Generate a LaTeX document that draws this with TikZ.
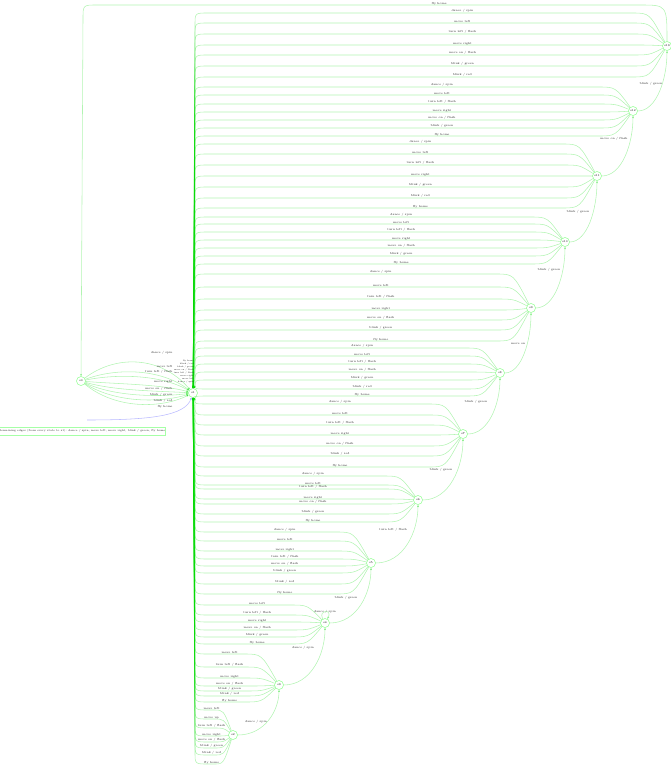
\documentclass[tikz,border=0pt]{standalone}
\usetikzlibrary{arrows.meta,calc}
\begin{document}
\begin{tikzpicture}[x=1pt,y=-1pt,
 st/.style={circle,draw=green!45,line width=0.5pt,inner sep=0pt,minimum size=9pt,font=\fontsize{2.8}{3}\selectfont},
 hedge/.style={draw=green!85!black,draw opacity=0.3,line width=0.55pt,-{Stealth[length=2.4pt,width=1.8pt]}},
 blueedge/.style={draw=blue!60,draw opacity=0.45,line width=0.55pt,-{Stealth[length=2.4pt,width=1.8pt]}},
 lbl/.style={font=\fontsize{2.9}{3.1}\selectfont,text=black!85,inner sep=0.3pt},
 tinylbl/.style={font=\fontsize{2.1}{2.3}\selectfont,text=black!85,inner sep=0.1pt},
 notebox/.style={draw=green!35,line width=0.5pt,minimum width=161pt,minimum height=8pt,inner sep=0pt,font=\fontsize{2.7}{3}\selectfont,text=black!85}]
\useasboundingbox (0,0) rectangle (671,768);

% states
\node[st] (L) at (81,381) {s0};
\node[st] (hub) at (193,393) {s1};
\node[st] (R1) at (233,735) {s2};
\node[st] (R2) at (279,685) {s3};
\node[st] (R3) at (325,623) {s4};
\node[st] (R4) at (371,563) {s5};
\node[st] (R5) at (418,500) {s6};
\node[st] (R6) at (463,434) {s7};
\node[st] (R7) at (500,373) {s8};
\node[st] (R8) at (531,308) {s9};
\node[st] (R9) at (565,242) {s10};
\node[st] (R10) at (597,176) {s11};
\node[st] (R11) at (633,111) {s12};
\node[st] (R12) at (667,46) {s13};

% note
\node[notebox] (note) at (82,431) {Remaining edges (from every state to s1): dance / spin, move left, move right, blink / green, fly home};
\coordinate (nstart) at (87,420);
\draw[blueedge] (nstart) .. controls (150,420) and (185,416) .. (hub);

% edges from a right-hand state back to s1
\newcommand\hedge[4]{%
 \pgfmathsetmacro\xa{max(#2-35,214)}%
 \pgfmathsetmacro\xm{(#2+\xa)/2}%
 \pgfmathsetmacro\ym{ifthenelse(#3<393, min(#3+12,386), max(#3-12,400))}%
 \draw[hedge] (#1) .. controls (\xm,#3) .. (\xa,#3) -- node[lbl,pos=0.4,above=-0.2pt]{#4} (208,#3) .. controls (195,#3) .. (195,\ym) -- (hub);}

\foreach \y/\t in {13/{dance / spin},23/{move left},34/{turn left / flash},45/{move right},55/{move on / flash},66/{blink / green},77/{blink / red}}{\hedge{R12}{667}{\y}{\t}}
\foreach \y/\t in {87/{dance / spin},95/{move left},104/{turn left / flash},112/{move right},120/{move on / flash},128/{blink / green},136/{fly home}}{\hedge{R11}{633}{\y}{\t}}
\foreach \y/\t in {144/{dance / spin},154/{move left},165/{turn left / flash},176/{move right},187/{blink / green},198/{blink / red},208/{fly home}}{\hedge{R10}{597}{\y}{\t}}
\foreach \y/\t in {217/{dance / spin},224/{move left},232/{turn left / flash},240/{move right},248/{move on / flash},256/{blink / green},264/{fly home}}{\hedge{R9}{565}{\y}{\t}}
\foreach \y/\t in {274/{dance / spin},287/{move left},299/{turn left / flash},310/{move right},320/{move on / flash},330/{blink / green},341/{fly home}}{\hedge{R8}{531}{\y}{\t}}
\foreach \y/\t in {348/{dance / spin},356/{move left},364/{turn left / flash},372/{move on / flash},380/{blink / green},389/{blink / red},396/{fly home}}{\hedge{R7}{500}{\y}{\t}}
\foreach \y/\t in {404/{dance / spin},415/{move left},425/{turn left / flash},435/{move right},446/{move on / flash},456/{blink / red},467/{fly home}}{\hedge{R6}{463}{\y}{\t}}
\foreach \y/\t in {476/{dance / spin},485/{move left},489/{turn left / flash},499/{move right},504/{move on / flash},514/{blink / green},522/{fly home}}{\hedge{R5}{418}{\y}{\t}}
\foreach \y/\t in {532/{dance / spin},541/{move left},551/{move right},559/{turn left / flash},566/{move on / flash},573/{blink / green},584/{blink / red},594/{fly home}}{\hedge{R4}{371}{\y}{\t}}
\foreach \y/\t in {605/{move left},615/{turn left / flash},622/{move right},630/{move on / flash},637/{blink / green},644/{fly home}}{\hedge{R3}{325}{\y}{\t}}
\foreach \y/\t in {654/{move left},667/{turn left / flash},678/{move right},686/{move on / flash},691/{blink / green},696/{blink / red},702/{fly home}}{\hedge{R2}{279}{\y}{\t}}
\foreach \y/\t in {710/{move left},719/{move up},728/{turn left / flash},736/{move right},742/{move on / flash},748/{blink / green},755/{blink / red},764/{fly home}}{\hedge{R1}{233}{\y}{\t}}

% edges from s0 to s1
\foreach \y/\t in {353/{dance / spin},366/{move left},372/{turn left / flash},382/{move right},389/{move on / flash},395/{blink / green},401/{blink / red},407/{fly home}}{
 \draw[hedge] (L) .. controls (115,\y+2) and (160,\y+2) .. (hub);
 \node[lbl,anchor=east] at (173,\y) {\t};}
\foreach \y/\t in {361/{fly home},364/{blink / red},367/{blink / green},370/{move on / flash},373/{turn left / flash},376/{move right},379/{move left},382/{dance / spin}}{
 \node[tinylbl,anchor=east] at (194,\y) {\t};}

% chain of states
\newcommand\chainedge[2]{%
 \draw[hedge] let \p1=(#1), \p2=(#2) in (#1) .. controls (\x1+0.7*\x2-0.7*\x1, \y1) and (\x2, \y2+0.5*\y1-0.5*\y2) .. (#2);}
\chainedge{R1}{R2}\node[lbl] at (256,722) {dance / spin};
\chainedge{R2}{R3}\node[lbl] at (303,648) {dance / spin};
\chainedge{R3}{R4}\node[lbl] at (346,598) {blink / green};
\chainedge{R4}{R5}\node[lbl] at (393,530) {turn left / flash};
\chainedge{R5}{R6}\node[lbl] at (441,470) {blink / green};
\chainedge{R6}{R7}\node[lbl] at (476,402) {blink / green};
\chainedge{R7}{R8}\node[lbl] at (518,344) {move on};
\chainedge{R8}{R9}\node[lbl] at (549,270) {blink / green};
\chainedge{R9}{R10}\node[lbl] at (578,212) {blink / green};
\chainedge{R10}{R11}\node[lbl] at (614,139) {move on / flash};
\chainedge{R11}{R12}\node[lbl] at (651,84) {blink / green};

% self loop on s4
\draw[hedge] (R3.120) .. controls (318,609) and (333,609) .. (R3.60);
\node[lbl] at (325,612) {dance / spin};

% back to s0
\draw[hedge] (R12) .. controls (667,5) .. (640,5) -- node[lbl,pos=0.37,above=-0.2pt]{fly home} (97,5) .. controls (83,5) .. (83,19) -- (L);
\end{tikzpicture}
\end{document}
